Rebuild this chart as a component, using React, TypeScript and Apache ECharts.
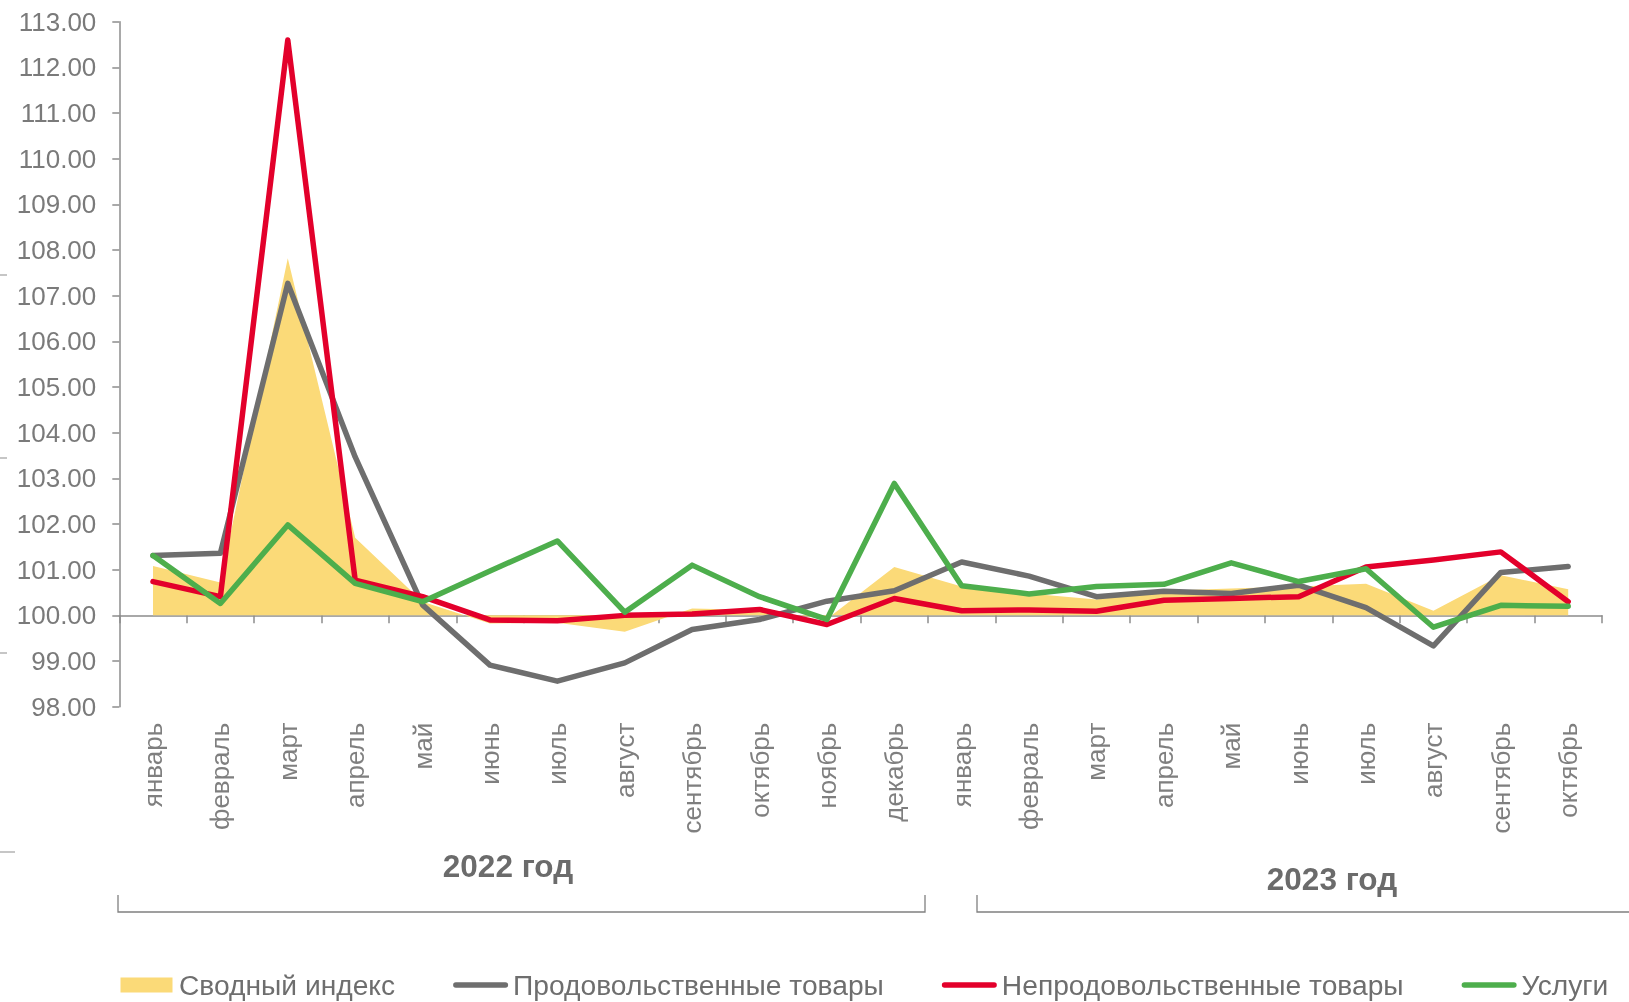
import React, { useEffect, useRef } from 'react';
import * as echarts from 'echarts';

const categories = [
  'январь', 'февраль', 'март', 'апрель', 'май', 'июнь', 'июль', 'август', 'сентябрь', 'октябрь', 'ноябрь', 'декабрь',
  'январь', 'февраль', 'март', 'апрель', 'май', 'июнь', 'июль', 'август', 'сентябрь', 'октябрь',
];
const svodnyi = [101.08, 100.72, 107.82, 101.70, 100.30, 99.82, 99.84, 99.64, 100.15, 100.12, 99.92, 101.06,
  100.63, 100.48, 100.35, 100.54, 100.59, 100.63, 100.69, 100.10, 100.88, 100.57];
const prodTovary = [101.31, 101.36, 107.27, 103.47, 100.23, 98.91, 98.56, 98.96, 99.69, 99.91, 100.31, 100.54,
  101.17, 100.86, 100.41, 100.53, 100.48, 100.66, 100.17, 99.33, 100.94, 101.07];
const neprodTovary = [100.74, 100.41, 112.60, 100.77, 100.41, 99.90, 99.88, 100.00, 100.03, 100.13, 99.80, 100.37,
  100.10, 100.12, 100.09, 100.33, 100.37, 100.41, 101.06, 101.21, 101.39, 100.30];
const uslugi = [101.31, 100.26, 101.98, 100.70, 100.30, 100.97, 101.63, 100.07, 101.10, 100.41, 99.91, 102.89,
  100.65, 100.47, 100.63, 100.68, 101.15, 100.74, 101.02, 99.74, 100.22, 100.20];
const seriesNames = ['Сводный индекс', 'Продовольственные товары', 'Непродовольственные товары', 'Услуги'];
const yearLabels = ['2022 год', '2023 год'];

const Y_MIN = 98;
const Y_MAX = 113;
const Y_STEP = 1;
const BASE = 100;

const W = 1629;
const H = 1002;
const GRID = { left: 119.3, top: 21.7, width: 1482.6, height: 685 };
const FONT = '"Liberation Sans", Arial, sans-serif';

const YELLOW = '#FBDA78';
const GRAY = '#6E6E6E';
const RED = '#E3002B';
const GREEN = '#4DAE4C';
const AXIS = '#8C8C8C';

export default function App() {
  const ref = useRef<HTMLDivElement>(null);
  useEffect(() => {
    const chart = echarts.init(ref.current!, undefined, { renderer: 'svg', width: W, height: H });
    const lineIcon = 'path://M2.75,0 L52.25,0 A2.75,2.75 0 0 1 52.25,5.5 L2.75,5.5 A2.75,2.75 0 0 1 2.75,0 Z';
    const rectIcon = 'path://M0,0 L52,0 L52,15 L0,15 Z';
    const baseOffset = -GRID.height * (BASE - Y_MIN) / (Y_MAX - Y_MIN);
    const mkLine = (name: string, data: number[], color: string) => ({
      name,
      type: 'line',
      data,
      symbol: 'none',
      lineStyle: { width: 5.5, color, cap: 'round', join: 'round' },
      itemStyle: { color },
      xAxisIndex: 1,
    });
    const dash = (y: number, len: number) => ({
      type: 'line',
      shape: { x1: 0, y1: y, x2: len, y2: y },
      style: { stroke: '#A0A0A0', lineWidth: 1.2 },
    });
    const yearText = (text: string, x: number, y: number) => ({
      type: 'text',
      x,
      y,
      style: {
        text,
        font: `bold 31.5px ${FONT}`,
        fill: '#6B6B6B',
        textAlign: 'center',
        align: 'center',
        textVerticalAlign: 'middle',
        verticalAlign: 'middle',
      },
    });
    chart.setOption({
      animation: false,
      grid: { ...GRID, containLabel: false, outerBoundsMode: 'none' },
      xAxis: [
        {
          type: 'category',
          data: categories,
          position: 'bottom',
          offset: baseOffset,
          boundaryGap: true,
          axisLine: { show: true, onZero: false, lineStyle: { color: AXIS, width: 1.5 } },
          axisTick: { show: true, length: 8, lineStyle: { color: AXIS, width: 1.5 } },
          axisLabel: { show: false },
          splitLine: { show: false },
        },
        {
          type: 'category',
          data: categories,
          position: 'bottom',
          boundaryGap: true,
          axisLine: { show: false, onZero: false },
          axisTick: { show: false },
          axisLabel: {
            show: true,
            interval: 0,
            rotate: 90,
            margin: 16,
            color: '#7F7F7F',
            fontSize: 26,
            fontFamily: FONT,
          },
          splitLine: { show: false },
        },
      ],
      yAxis: {
        type: 'value',
        min: Y_MIN,
        max: Y_MAX,
        interval: Y_STEP,
        axisLine: { show: true, onZero: false, lineStyle: { color: AXIS, width: 1.5 } },
        axisTick: { show: true, length: 7, lineStyle: { color: AXIS, width: 1.5 } },
        axisLabel: {
          margin: 23,
          color: '#7A7A7A',
          fontSize: 26,
          fontFamily: FONT,
          formatter: (v: number) => v.toFixed(2),
        },
        splitLine: { show: false },
      },
      legend: {
        left: 120.5,
        top: 971,
        padding: 0,
        itemWidth: 55,
        itemHeight: 15,
        itemGap: 58,
        symbolKeepAspect: true,
        textStyle: { color: '#6E6E6E', fontSize: 28.2, lineHeight: 28, fontFamily: FONT, padding: [0, 0, 0, 0] },
        data: [
          { name: seriesNames[0], icon: rectIcon, itemStyle: { color: YELLOW, borderWidth: 0 } },
          { name: seriesNames[1], icon: lineIcon, itemStyle: { color: GRAY, borderWidth: 0 } },
          { name: seriesNames[2], icon: lineIcon, itemStyle: { color: RED, borderWidth: 0 } },
          { name: seriesNames[3], icon: lineIcon, itemStyle: { color: GREEN, borderWidth: 0 } },
        ],
        selectedMode: false,
      },
      series: [
        {
          name: seriesNames[0],
          type: 'line',
          data: svodnyi,
          symbol: 'none',
          xAxisIndex: 1,
          lineStyle: { width: 0, color: YELLOW },
          itemStyle: { color: YELLOW },
          areaStyle: { color: YELLOW, opacity: 1, origin: BASE },
          z: 1,
        },
        mkLine(seriesNames[1], prodTovary, GRAY),
        mkLine(seriesNames[2], neprodTovary, RED),
        mkLine(seriesNames[3], uslugi, GREEN),
      ],
      graphic: [
        {
          type: 'polyline',
          shape: { points: [[118, 895], [118, 912], [925, 912], [925, 895]] },
          style: { stroke: '#808080', lineWidth: 1.3, fill: null },
        },
        {
          type: 'polyline',
          shape: { points: [[977, 895], [977, 912], [1629, 912]] },
          style: { stroke: '#808080', lineWidth: 1.3, fill: null },
        },
        yearText(yearLabels[0], 508, 866),
        yearText(yearLabels[1], 1332, 879),
        dash(275, 7),
        dash(458, 7),
        dash(653, 7),
        dash(852, 15),
      ],
    });
    return () => chart.dispose();
  }, []);
  return <div ref={ref} style={{ position: 'fixed', left: 0, top: 0, width: W, height: H }} />;
}
